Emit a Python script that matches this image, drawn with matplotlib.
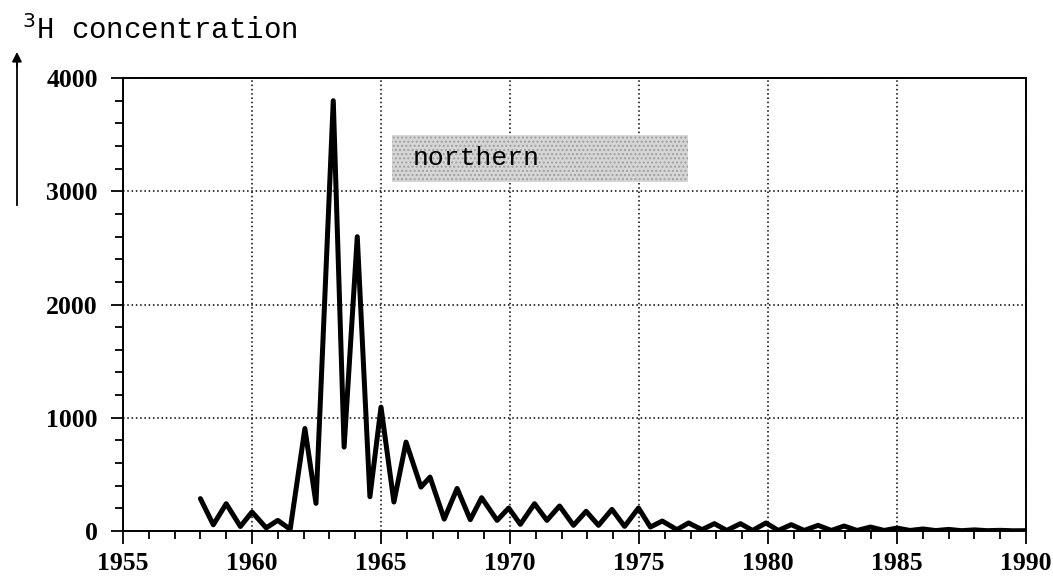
# Tritium (3H) concentration in northern hemisphere precipitation, 1958-1990
import matplotlib.pyplot as plt
from matplotlib.ticker import MultipleLocator

# Values (peaks and troughs of the seasonal cycle)
years = [1958.0, 1958.5, 1959.0, 1959.55, 1960.0, 1960.55, 1961.0, 1961.48,
         1962.05, 1962.48, 1963.15, 1963.57, 1964.08, 1964.57, 1965.0, 1965.5,
         1965.97, 1966.55, 1966.9, 1967.45, 1967.95, 1968.46, 1968.9, 1969.5,
         1969.95, 1970.4, 1970.95, 1971.43, 1971.92, 1972.46, 1972.95, 1973.43,
         1973.95, 1974.44, 1974.98, 1975.44, 1975.9, 1976.47, 1976.92, 1977.44,
         1977.92, 1978.4, 1978.93, 1979.4, 1979.92, 1980.4, 1980.9, 1981.4,
         1981.94, 1982.45, 1982.95, 1983.45, 1983.97, 1984.5, 1985.0, 1985.5,
         1986.0, 1986.5, 1987.0, 1987.5, 1988.0, 1988.5, 1989.0, 1989.5, 1990.0]
concentration = [286, 55, 241, 40, 168, 28, 94, 15,
                 905, 244, 3800, 741, 2599, 303, 1094, 256,
                 785, 388, 476, 105, 376, 100, 294, 94,
                 203, 59, 241, 94, 221, 50, 174, 50,
                 191, 41, 203, 35, 88, 12, 71, 12,
                 65, 5, 65, 5, 71, 5, 56, 5,
                 50, 5, 44, 5, 35, 5, 26, 5,
                 18, 4, 14, 3, 10, 3, 6, 2, 3]

x_ticks = [1955, 1960, 1965, 1970, 1975, 1980, 1985, 1990]
y_ticks = [0, 1000, 2000, 3000, 4000]

label_font = {'family': 'Liberation Serif', 'weight': 'bold', 'size': 18.5}
mono = 'Liberation Mono'

fig = plt.figure(figsize=(10.53, 5.78), dpi=100)
ax = fig.add_axes([0.1168, 0.0813, 0.8576, 0.7837])

# the curve
ax.plot(years, concentration, color='black', linewidth=3.6,
        solid_joinstyle='round', solid_capstyle='round', zorder=3)

# shaded "northern" label box
ax.fill_between([1965.41, 1976.91], 3084, 3497, facecolor='#d6d6d6',
                edgecolor='#a0a0a0', hatch='....', linewidth=0, zorder=2)
ax.text(1966.24, 3290, 'northern', family=mono, fontsize=19,
        va='center', ha='left', zorder=4)

# axes, ticks and dotted grid
ax.set_xlim(1955, 1990)
ax.set_ylim(0, 4000)
ax.set_xticks(x_ticks)
ax.set_yticks(y_ticks)
ax.xaxis.set_minor_locator(MultipleLocator(1))
ax.yaxis.set_minor_locator(MultipleLocator(200))
ax.tick_params(which='major', direction='out', length=9, width=1.3, pad=9)
ax.tick_params(which='minor', direction='out', length=6, width=1.3)
ax.tick_params(axis='x', which='major', pad=6)
for lab in ax.get_xticklabels() + ax.get_yticklabels():
    lab.set_fontproperties(label_font)
ax.grid(True, which='major', color='black', linestyle=(0, (1, 1.8)), linewidth=1.1)
for side in ax.spines.values():
    side.set_linewidth(1.4)

# y axis title and arrow
fig.text(0.021, 0.948, '$^3$H concentration', family=mono, fontsize=21,
         ha='left', va='center')
fig.add_artist(plt.Line2D([0.0161, 0.0161], [0.645, 0.895], color='black',
                          linewidth=1.3, transform=fig.transFigure))
ax.annotate('', xy=(0.0161, 0.915), xytext=(0.0161, 0.88),
            xycoords='figure fraction', textcoords='figure fraction',
            arrowprops=dict(arrowstyle='-|>', color='black', lw=1.3,
                            mutation_scale=14))

plt.savefig('out.png', dpi=100)
plt.close()
